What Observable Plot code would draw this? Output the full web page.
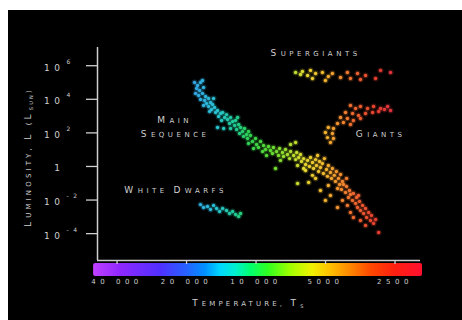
<!DOCTYPE html>
<html><head><meta charset="utf-8">
<script src="https://cdn.jsdelivr.net/npm/d3@7"></script>
<script src="https://cdn.jsdelivr.net/npm/@observablehq/plot@0.6"></script>
<style>
html,body{margin:0;padding:0;background:#fff;overflow:hidden}
#chart{position:absolute;left:8px;top:10px;width:454px;height:310px;background:#000}
#chart svg{display:block}
</style></head><body><div id="chart"></div>
<script>
// Main sequence: surface temperature (K) and log10 luminosity (L_sun)
const msTemp = [18190,17650,17140,16800,17830,17300,16630,18010,17470,16800,16300,17140,16460,15820,16140,15510,16630,15820,15200,15350,14900,15660,14750,15050,
14460,14030,14310,13750,13480,13220,13890,13090,12700,12830,12450,12080,11840,12200,11720,11960,11500,11270,11050,11610,10830,11160,14460,13610,12700,10620,
10720,10410,10210,9900,10620,9800,9420,9610,9140,8960,8700,9230,8530,8280,8360,8030,7790,7870,7570,7340,7490,7200,6980,7050,6770,6570,6640,6440,6320,8110,6980,6640,10100,8870,7720,
6260,6130,6010,5890,5780,5720,5610,5550,5440,5390,5280,5230,5180,5080,5030,4980,4880,4830,4790,4690,4640,4600,4510,4460,4420,4330,4280,4240,4160,5330,6010,5610,6510,6130,6510,5830,5180,4930,4690,4370,4790,5440,
4200,4120,4035,3995,3920,3880,3840,3765,3730,3650,3615,3580,3510,3475,3405,3370,3305,3270,3205,3145,3115,3050,2990,2900,4370,4160,3960,3840,3730,3475,3305,3995,3545];
const msLogL = [5.00,4.82,5.00,5.12,4.64,4.52,4.70,4.35,4.23,4.35,4.17,3.99,3.93,4.05,3.75,3.81,3.63,3.57,3.69,3.39,3.51,3.27,3.21,4.05,
3.33,3.15,2.98,3.21,2.92,3.09,2.74,2.80,2.92,2.56,2.68,2.74,2.92,2.44,2.50,2.20,2.32,2.08,2.26,1.96,1.90,1.79,2.32,2.26,2.26,2.08,
1.67,1.84,1.49,1.67,1.37,1.31,1.49,1.13,1.25,1.01,1.19,0.89,0.95,1.13,0.77,0.89,1.07,0.65,0.83,1.01,0.59,0.71,0.89,0.47,0.65,0.83,0.41,0.53,0.71,-0.12,1.31,1.43,1.07,0.65,0.36,
0.30,0.47,0.12,0.36,0.00,0.53,0.24,-0.12,0.41,0.06,-0.30,0.30,-0.06,0.18,-0.42,0.47,-0.18,-0.59,0.06,-0.36,-0.71,-0.12,-0.53,-0.89,-0.30,-0.71,-1.07,-0.48,-0.89,0.65,-0.24,-0.53,0.06,-0.12,-1.01,-0.95,-1.43,-2.02,-1.73,-1.31,-1.13,-0.71,
-1.37,-1.07,-1.55,-1.19,-1.85,-1.43,-1.67,-2.02,-1.61,-2.20,-1.85,-2.44,-2.08,-2.62,-2.32,-2.80,-2.50,-3.04,-2.74,-3.22,-2.92,-3.39,-3.16,-3.93,-2.44,-2.02,-2.32,-2.74,-3.04,-3.22,-3.51,-0.71,-1.73];

// Supergiants
const sgTemp = [6640,6320,6200,5890,5720,5610,5440,5080,4930,4790,4600,4240,3960,3840,3580,3475,3305,2990,2845,2575];
const sgLogL = [5.60,5.48,5.66,5.42,5.72,5.24,5.54,5.60,5.12,5.36,5.54,5.30,5.60,5.24,5.54,5.18,5.42,5.24,5.72,5.60];

// Giants
const gTemp = [3840,3650,3475,3240,3050,2845,2650,2575,4035,3760,3545,3305,3080,4240,3960,3730,3475,4370,4120,3840,4790,4550,4930,4600,4830,4550,4690,2900,2735];
const gLogL = [3.63,3.45,3.57,3.45,3.57,3.45,3.57,3.33,3.21,3.15,3.04,3.15,3.21,2.92,2.86,2.74,2.86,2.56,2.62,2.50,2.32,2.26,2.02,1.96,1.72,1.67,1.43,3.27,3.39];

// White dwarfs
const wdTemp = [17140,16630,15980,15510,15050,14600,14170,13750,13220,12830,12450,12080,11720,11500];
const wdLogL = [-2.27,-2.44,-2.38,-2.56,-2.32,-2.50,-2.68,-2.50,-2.62,-2.80,-2.68,-2.86,-2.98,-2.80];

// Axis ticks
const xTickValues = [40000, 20000, 10000, 5000, 2500];
const xTickLabels = ["40 000", "20 000", "10 000", "5000", "2500"];
const yTickValues = [1e6, 1e4, 1e2, 1, 1e-2, 1e-4];
const yTickBase = ["10", "10", "10", "1", "10", "10"];
const yTickExp = ["6", "4", "2", "", "-2", "-4"];

// Colour bar stops (temperature K -> colour)
const barTemps = [49800, 38050, 25540, 19800, 16300, 14030, 12080, 10410, 8700, 6980, 5610, 4690, 3840, 3145, 2475, 1872];
const barColors = ["#c040ff","#9028ff","#5030ff","#2860ff","#0090ff","#00d8ff","#00f0d0","#00ff70","#30ff20","#a0ff00","#f0f000","#ffc000","#ff8800","#ff4a00","#ff2010","#ff1030"];

// Star colour stops (temperature K -> colour)
const starTemps = [18500, 14500, 12000, 10500, 8500, 7000, 6000, 5000, 4300, 3700, 3000, 2500];
const starColors = ["#34a4e8","#28c4d0","#20cc90","#30d450","#60dc30","#b0e030","#e8d830","#f4b830","#f49030","#f06830","#e84030","#e03040"];

const starColor = d3.scaleLog().domain(starTemps).range(starColors).interpolate(d3.interpolateRgb).clamp(true);

const groups = [
  ["main", msTemp, msLogL],
  ["super", sgTemp, sgLogL],
  ["giant", gTemp, gLogL],
  ["dwarf", wdTemp, wdLogL]
];
const stars = groups.flatMap(([g, T, L]) => T.map((t, i) => ({group: g, temp: t, lum: Math.pow(10, L[i]), color: starColor(t)})));

const ink = "#cfcfcf";
const labelFont = {fontSize: 9, fill: ink};
const capsLabels = ["SUPERGIANTS", "MAIN", "SEQUENCE", "GIANTS", "WHITE DWARFS", "TEMPERATURE, T", "LUMINOSITY, L (L"];

const chart = Plot.plot({
  width: 454, height: 310,
  marginLeft: 89, marginRight: 42, marginTop: 37, marginBottom: 60,
  style: {background: "#000", color: ink, fontFamily: "'DejaVu Sans', sans-serif", letterSpacing: "0.45em", overflow: "visible"},
  x: {type: "log", domain: [47900, 1910], axis: null},
  y: {type: "log", domain: [Math.pow(10, -5.6), Math.pow(10, 7.085)], axis: null},
  color: {type: "identity"},
  marks: [
    // colour bar
    Plot.rect([0], {x1: 49800, x2: 1872, y1: Math.pow(10, -5.78), y2: Math.pow(10, -6.55), fill: "url(#tempGrad)", rx: 2}),
    // axes
    Plot.ruleX([47900], {stroke: ink, strokeWidth: 1.5}),
    Plot.ruleY([Math.pow(10, -5.6)], {stroke: ink, strokeWidth: 1.5}),
    Plot.axisY({ticks: yTickValues, tickSize: 11, tickFormat: () => "", label: null, stroke: ink, strokeWidth: 1.3}),
    Plot.axisX({ticks: xTickValues, tickSize: 4, tickPadding: 15, fontSize: 7, dx: 1.5, label: null, stroke: ink, strokeWidth: 1.3,
      tickFormat: (d) => xTickLabels[xTickValues.indexOf(d)]}),
    // y tick labels with exponents
    Plot.text(yTickValues, {y: (d) => d, text: (d, i) => yTickBase[i], frameAnchor: "left", dx: -33, dy: 2, textAnchor: "end", fontSize: 9, fill: ink}),
    Plot.text(yTickValues, {y: (d) => d, text: (d, i) => yTickExp[i], frameAnchor: "left", dx: -31, dy: -4, textAnchor: "start", fontSize: 6, fill: ink}),
    // stars: soft glow then core
    Plot.dot(stars, {x: "temp", y: "lum", r: 3, fill: "color", fillOpacity: 0.25}),
    Plot.dot(stars, {x: "temp", y: "lum", r: 1.7, fill: "color"}),
    // region labels
    Plot.text([capsLabels[0]], {x: 5550, y: Math.pow(10, 6.73), text: (d) => d, dx: 2, ...labelFont}),
    Plot.text([capsLabels[1]], {x: 22650, y: Math.pow(10, 2.74), text: (d) => d, dx: 2, ...labelFont}),
    Plot.text([capsLabels[2]], {x: 22540, y: Math.pow(10, 1.90), text: (d) => d, dx: 2, ...labelFont}),
    Plot.text([capsLabels[3]], {x: 2900, y: Math.pow(10, 1.90), text: (d) => d, dx: 2, ...labelFont}),
    Plot.text([capsLabels[4]], {x: 22430, y: Math.pow(10, -1.43), text: (d) => d, dx: 2, ...labelFont}),
    // axis titles
    Plot.text([capsLabels[5]], {frameAnchor: "bottom", text: (d) => d, dx: -9, dy: 45, textAnchor: "middle", ...labelFont}),
    Plot.text([capsLabels[6]], {frameAnchor: "left", text: (d) => d, rotate: -90, dx: -69, dy: 3, textAnchor: "middle", lineAnchor: "middle", ...labelFont})
  ]
});

// gradient for the colour bar, positioned through the x scale
const xs = chart.scale("x");
const xa = xs.apply(barTemps[0]), xb = xs.apply(barTemps[barTemps.length - 1]);
const defs = d3.select(chart).insert("defs", ":first-child");
const grad = defs.append("linearGradient").attr("id", "tempGrad").attr("x1", 0).attr("x2", 1).attr("y1", 0).attr("y2", 0);
barTemps.forEach((t, i) => grad.append("stop").attr("offset", (xs.apply(t) - xa) / (xb - xa)).attr("stop-color", barColors[i]));
d3.select(chart).selectAll('g[aria-label="rect"] rect').attr("fill", "url(#tempGrad)");

// engraved small-caps look: first letter of each word larger
function smallCaps(el, s, big, small, spacing) {
  el.textContent = "";
  let runs = [];
  let prevLetter = false;
  for (const ch of s) {
    const isLetter = /[A-Z]/.test(ch);
    const size = isLetter && !prevLetter ? big : small;
    if (runs.length && runs[runs.length - 1].size === size) runs[runs.length - 1].text += ch;
    else runs.push({size, text: ch});
    prevLetter = isLetter;
  }
  for (const r of runs) {
    d3.select(el).append("tspan").attr("font-size", r.size).style("letter-spacing", spacing).text(r.text);
  }
}

d3.select(chart).selectAll("text").each(function () {
  const s = this.textContent;
  if (!capsLabels.includes(s)) return;
  const isTitle = s === capsLabels[5] || s === capsLabels[6];
  smallCaps(this, s, 9, 7, isTitle ? "0.45em" : "0.5em");
  const t = d3.select(this);
  if (s === capsLabels[6]) {
    t.append("tspan").attr("font-size", 5).attr("dy", 2).style("letter-spacing", "0.45em").text("SUN");
    t.append("tspan").attr("font-size", 7).attr("dy", -2).style("letter-spacing", "0.45em").text(")");
  } else if (s === capsLabels[5]) {
    t.append("tspan").attr("font-size", 5).attr("dy", 2).text("S");
  }
});

document.getElementById("chart").append(chart);
</script>
</body></html>
